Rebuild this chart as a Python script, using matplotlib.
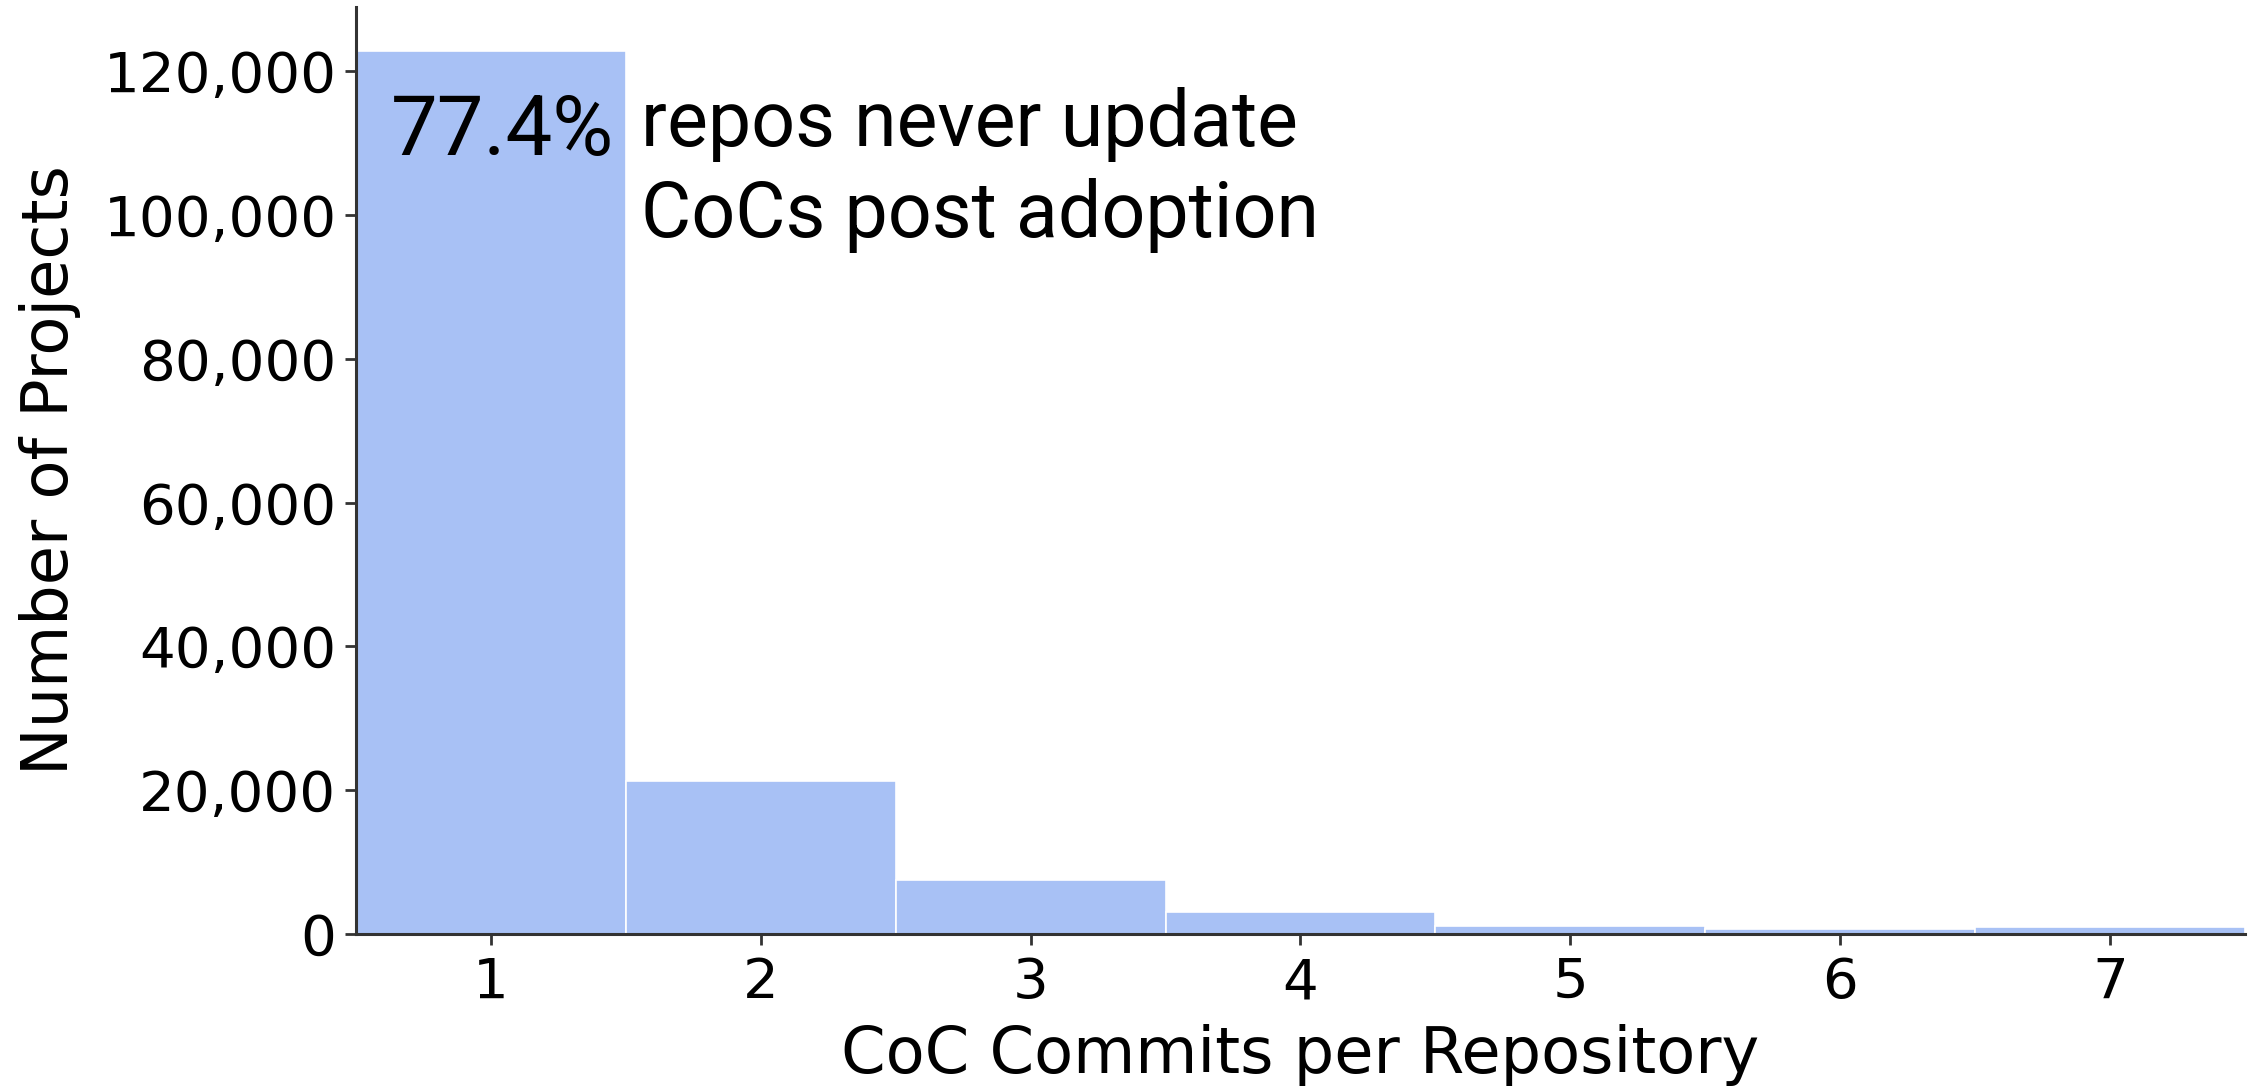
import matplotlib
matplotlib.use("Agg")
import matplotlib.pyplot as plt
from matplotlib.ticker import FuncFormatter

# commits touching the CoC file per repository -> number of repos
commits = [1, 2, 3, 4, 5, 6, 7]
n_projects = [122800, 21300, 7550, 3030, 1080, 650, 940]
share_never = "77.4%"
note = "repos never update\nCoCs post adoption"

fig = plt.figure(figsize=(22.57, 10.88), dpi=100)
ax = fig.add_axes([0.1577, 0.1415, 0.837, 0.852])

ax.bar(commits, n_projects, width=1.0, color="#a8c1f5", edgecolor="white", linewidth=1.2)
ax.set_xlim(0.5, 7.5)

ax.spines["top"].set_visible(False)
ax.spines["right"].set_visible(False)
for s in ("left", "bottom"):
    ax.spines[s].set_linewidth(2.2)
    ax.spines[s].set_color("#333333")

ax.set_xticks(commits)
ax.yaxis.set_major_formatter(FuncFormatter(lambda v, p: f"{int(v):,}"))
ax.tick_params(axis="both", labelsize=40.5, length=8, width=2, color="#333333")
ax.tick_params(axis="x", pad=8)
ax.tick_params(axis="y", pad=6)

ax.set_xlabel("CoC Commits per Repository", fontsize=46, labelpad=10)
ax.set_ylabel("Number of Projects", fontsize=46, labelpad=16)

ax.text(0.63, 108400, share_never, fontsize=60, family=["Roboto", "DejaVu Sans"], va="baseline")
ax.text(1.556, 117800, note, fontsize=55.5, family=["Roboto", "DejaVu Sans"], va="top", linespacing=1.27)

fig.savefig("out.png", dpi=100)
